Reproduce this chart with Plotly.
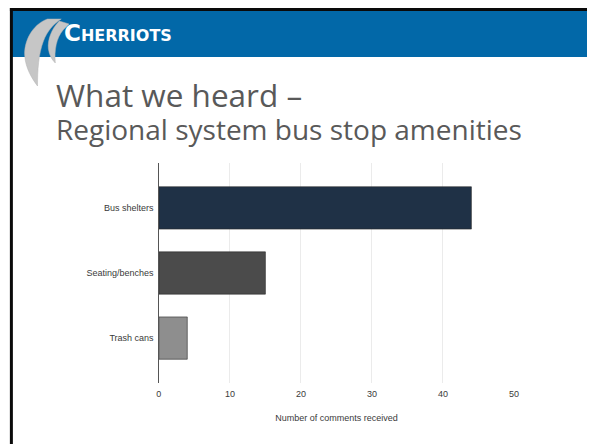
import plotly.graph_objects as go

# Survey answers: bus stop amenities requested
categories = ["Bus shelters", "Seating/benches", "Trash cans"]
comments = [44, 15, 4]
bar_colors = ["#1f3146", "#4b4b4b", "#8e8e8e"]
tick_values = [0, 10, 20, 30, 40, 50]

W, H = 592, 444


def px_x(x):
    return x / W


def px_y(y):
    return 1 - y / H


fig = go.Figure()

fig.add_trace(go.Bar(
    x=comments,
    y=categories,
    orientation="h",
    marker=dict(color=bar_colors, line=dict(color="#2a2a2a", width=0.6)),
    width=0.65,
    hoverinfo="x+y",
))

shapes = []
# slide frame: header band and black border
shapes.append(dict(type="rect", xref="paper", yref="paper",
                   x0=px_x(8), x1=1.0, y0=px_y(57), y1=px_y(10),
                   fillcolor="#0268a8", line=dict(width=0), layer="below"))
shapes.append(dict(type="line", xref="paper", yref="paper",
                   x0=px_x(7), x1=1.0, y0=px_y(9.5), y1=px_y(9.5),
                   line=dict(color="#0a0a0a", width=3)))
shapes.append(dict(type="line", xref="paper", yref="paper",
                   x0=px_x(8.5), x1=px_x(8.5), y0=0, y1=px_y(8),
                   line=dict(color="#0a0a0a", width=3)))


# logo swooshes, outlined in pixel units and converted to paper coords
def path(points):
    segs = []
    for cmd, pts in points:
        coords = " ".join(f"{px_x(x):.4f},{px_y(y):.4f}" for x, y in pts)
        segs.append(f"{cmd} {coords}")
    return " ".join(segs) + " Z"


outer = path([
    ("M", [(45, 19)]),
    ("C", [(29, 25), (21, 42), (22, 56)]),
    ("C", [(23, 68), (29, 78), (35, 86)]),
    ("C", [(35, 70), (36, 54), (41, 41)]),
    ("C", [(45, 31), (51, 24), (59, 19)]),
])
inner = path([
    ("M", [(57, 21)]),
    ("C", [(49, 29), (45, 40), (46, 49)]),
    ("C", [(47, 55), (49, 59), (53, 63)]),
    ("C", [(52, 50), (54, 38), (61, 30)]),
    ("C", [(63, 28), (65, 26), (67, 24)]),
])
for p in (outer, inner):
    shapes.append(dict(type="path", xref="paper", yref="paper", path=p,
                       fillcolor="#c6c6c6", line=dict(color="#b5b5b5", width=0.5)))

# slide heading: title line plus subtitle line in one text block
heading = ("<span style='font-size:31.5px'>What we heard –</span><br>"
           "<span style='font-size:28px'>Regional system bus stop amenities</span>")

annotations = [
    dict(text="<b><span style='font-size:23px'>C</span>HERRIOTS</b>",
         x=px_x(60), y=px_y(48), xref="paper", yref="paper",
         xanchor="left", yanchor="bottom", showarrow=False,
         font=dict(family="DejaVu Sans", size=16, color="white")),
    dict(text=heading, x=px_x(52), y=px_y(150),
         xref="paper", yref="paper", xanchor="left", yanchor="bottom",
         align="left", showarrow=False,
         font=dict(family="Open Sans", size=25, color="#595959")),
]

label_font = "Liberation Sans Narrow, Arial Narrow, Liberation Sans"

fig.update_layout(
    width=W, height=H,
    margin=dict(l=0, r=0, t=0, b=0),
    paper_bgcolor="white",
    plot_bgcolor="white",
    showlegend=False,
    shapes=shapes,
    annotations=annotations,
    xaxis=dict(
        domain=[px_x(158), px_x(518)],
        range=[0, 50],
        tickvals=tick_values,
        showgrid=True, gridcolor="#ebebeb", gridwidth=1,
        zeroline=False,
        showline=False,
        ticks="",
        ticklabelstandoff=4,
        tickfont=dict(family=label_font, size=9, color="#3a3a3a"),
        title=dict(text="Number of comments received", standoff=16,
                   font=dict(family=label_font, size=9, color="#3a3a3a")),
        fixedrange=True,
    ),
    yaxis=dict(
        domain=[px_y(383), px_y(163)],
        range=[2.69, -0.69],
        showgrid=False,
        showline=True, linecolor="#555555", linewidth=1,
        ticks="",
        ticksuffix=" ",
        tickfont=dict(family=label_font, size=9, color="#3a3a3a"),
        fixedrange=True,
    ),
)

fig.write_html("out.html")
